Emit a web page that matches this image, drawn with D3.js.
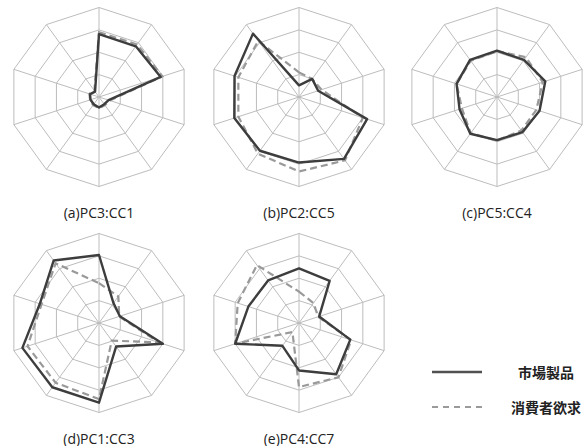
<!DOCTYPE html>
<html>
<head>
<meta charset="utf-8">
<script src="https://cdn.jsdelivr.net/npm/d3@7"></script>
<style>
  body { margin: 0; background: #fff; }
  svg { display: block; }
</style>
</head>
<body>
<div id="chart"></div>
<script>
// Radar panels: market products vs consumer desire, 10 axes each

const axisCount = 10;
const ringLevels = [1, 2, 3, 4];
const panelLabels = ['(a)PC3:CC1', '(b)PC2:CC5', '(c)PC5:CC4', '(d)PC1:CC3', '(e)PC4:CC7'];
const legendLabels = ['市場製品', '消費者欲求'];

// values per axis, clockwise from top
const marketA = [2.81, 2.8, 2.9, 0.45, 0.4, 0.47, 0.4, 0.4, 0.42, 0.3];
const desireA = [2.9, 2.9, 2.98, 0.5, 0.45, 0.5, 0.45, 0.42, 0.45, 0.35];
const marketB = [0.52, 1.0, 0.9, 3.2, 3.42, 2.93, 2.97, 3.04, 3.03, 3.5];
const desireB = [1.1, 1.0, 1.06, 3.0, 3.5, 3.33, 3.13, 2.85, 2.85, 3.1];
const marketC = [2.07, 2.05, 2.27, 2.0, 1.94, 1.93, 2.03, 1.76, 1.9, 2.05];
const desireC = [2.05, 2.2, 2.15, 1.85, 1.85, 1.95, 2.0, 1.65, 1.9, 2.0];
const marketD = [3.04, 1.1, 0.98, 3.0, 1.3, 3.56, 3.55, 3.6, 2.78, 3.45];
const desireD = [1.78, 1.47, 0.95, 2.82, 0.97, 3.4, 3.3, 3.36, 2.7, 3.3];
const marketE = [2.44, 2.33, 0.95, 2.41, 2.83, 2.12, 1.26, 3.0, 2.38, 2.35];
const desireE = [1.4, 1.1, 0.9, 2.45, 3.0, 2.86, 0.5, 3.0, 2.88, 3.2];

const width = 584;
const height = 446;
const radius = 89.5;

const panels = [
    { label: panelLabels[0], market: marketA, desire: desireA, cx: 99, cy: 97 },
    { label: panelLabels[1], market: marketB, desire: desireB, cx: 299, cy: 97 },
    { label: panelLabels[2], market: marketC, desire: desireC, cx: 497, cy: 97 },
    { label: panelLabels[3], market: marketD, desire: desireD, cx: 99, cy: 323 },
    { label: panelLabels[4], market: marketE, desire: desireE, cx: 299, cy: 323 }
];

const svg = d3.select('#chart').append('svg')
    .attr('width', width)
    .attr('height', height);

const rScale = d3.scaleLinear()
    .domain([0, d3.max(ringLevels)])
    .range([0, radius]);

const angleScale = d3.scaleLinear()
    .domain([0, axisCount])
    .range([0, 2 * Math.PI]);

const axisIdx = d3.range(axisCount);

const radarLine = d3.lineRadial()
    .angle((d, i) => angleScale(i))
    .radius(d => rScale(d))
    .curve(d3.curveLinearClosed);

function point(i, v) {
    const a = angleScale(i);
    return [Math.sin(a) * rScale(v), -Math.cos(a) * rScale(v)];
}

panels.forEach(p => {
    const g = svg.append('g')
        .attr('transform', `translate(${p.cx},${p.cy})`);

    // rings
    g.selectAll('.ring')
        .data(ringLevels)
        .join('path')
        .attr('class', 'ring')
        .attr('d', lvl => radarLine(axisIdx.map(() => lvl)))
        .attr('fill', 'none')
        .attr('stroke', '#bdbdbd')
        .attr('stroke-width', 1);

    // spokes
    g.selectAll('.spoke')
        .data(axisIdx)
        .join('line')
        .attr('class', 'spoke')
        .attr('x1', 0)
        .attr('y1', 0)
        .attr('x2', i => point(i, d3.max(ringLevels))[0])
        .attr('y2', i => point(i, d3.max(ringLevels))[1])
        .attr('stroke', '#bdbdbd')
        .attr('stroke-width', 1);

    // consumer desire (dashed)
    g.append('path')
        .datum(p.desire)
        .attr('d', radarLine)
        .attr('fill', 'none')
        .attr('stroke', '#999')
        .attr('stroke-width', 2.2)
        .attr('stroke-dasharray', '7,4');

    // market product (solid)
    g.append('path')
        .datum(p.market)
        .attr('d', radarLine)
        .attr('fill', 'none')
        .attr('stroke', '#3d3d3d')
        .attr('stroke-width', 2.4)
        .attr('stroke-linejoin', 'round');

    svg.append('text')
        .attr('x', p.cx)
        .attr('y', p.cy + 115)
        .attr('text-anchor', 'middle')
        .attr('dominant-baseline', 'central')
        .style('font-family', '"Open Sans", sans-serif')
        .style('font-size', '14px')
        .style('fill', '#222')
        .text(p.label);
});

// Legend
const legend = svg.append('g')
    .attr('class', 'legend');

const legendItems = [
    { label: legendLabels[0], y: 372, color: '#505050', dash: null, w: 2.5 },
    { label: legendLabels[1], y: 407, color: '#9a9a9a', dash: '6,5', w: 1.8 }
];

legendItems.forEach(item => {
    legend.append('line')
        .attr('x1', 432)
        .attr('x2', 482)
        .attr('y1', item.y)
        .attr('y2', item.y)
        .attr('stroke', item.color)
        .attr('stroke-width', item.w)
        .attr('stroke-dasharray', item.dash);

    legend.append('text')
        .attr('x', 546)
        .attr('y', item.y)
        .attr('text-anchor', 'middle')
        .attr('dominant-baseline', 'central')
        .style('font-family', '"Noto Sans CJK JP", sans-serif')
        .style('font-size', '14px')
        .style('font-weight', '700')
        .style('fill', '#222')
        .text(item.label);
});
</script>
</body>
</html>
